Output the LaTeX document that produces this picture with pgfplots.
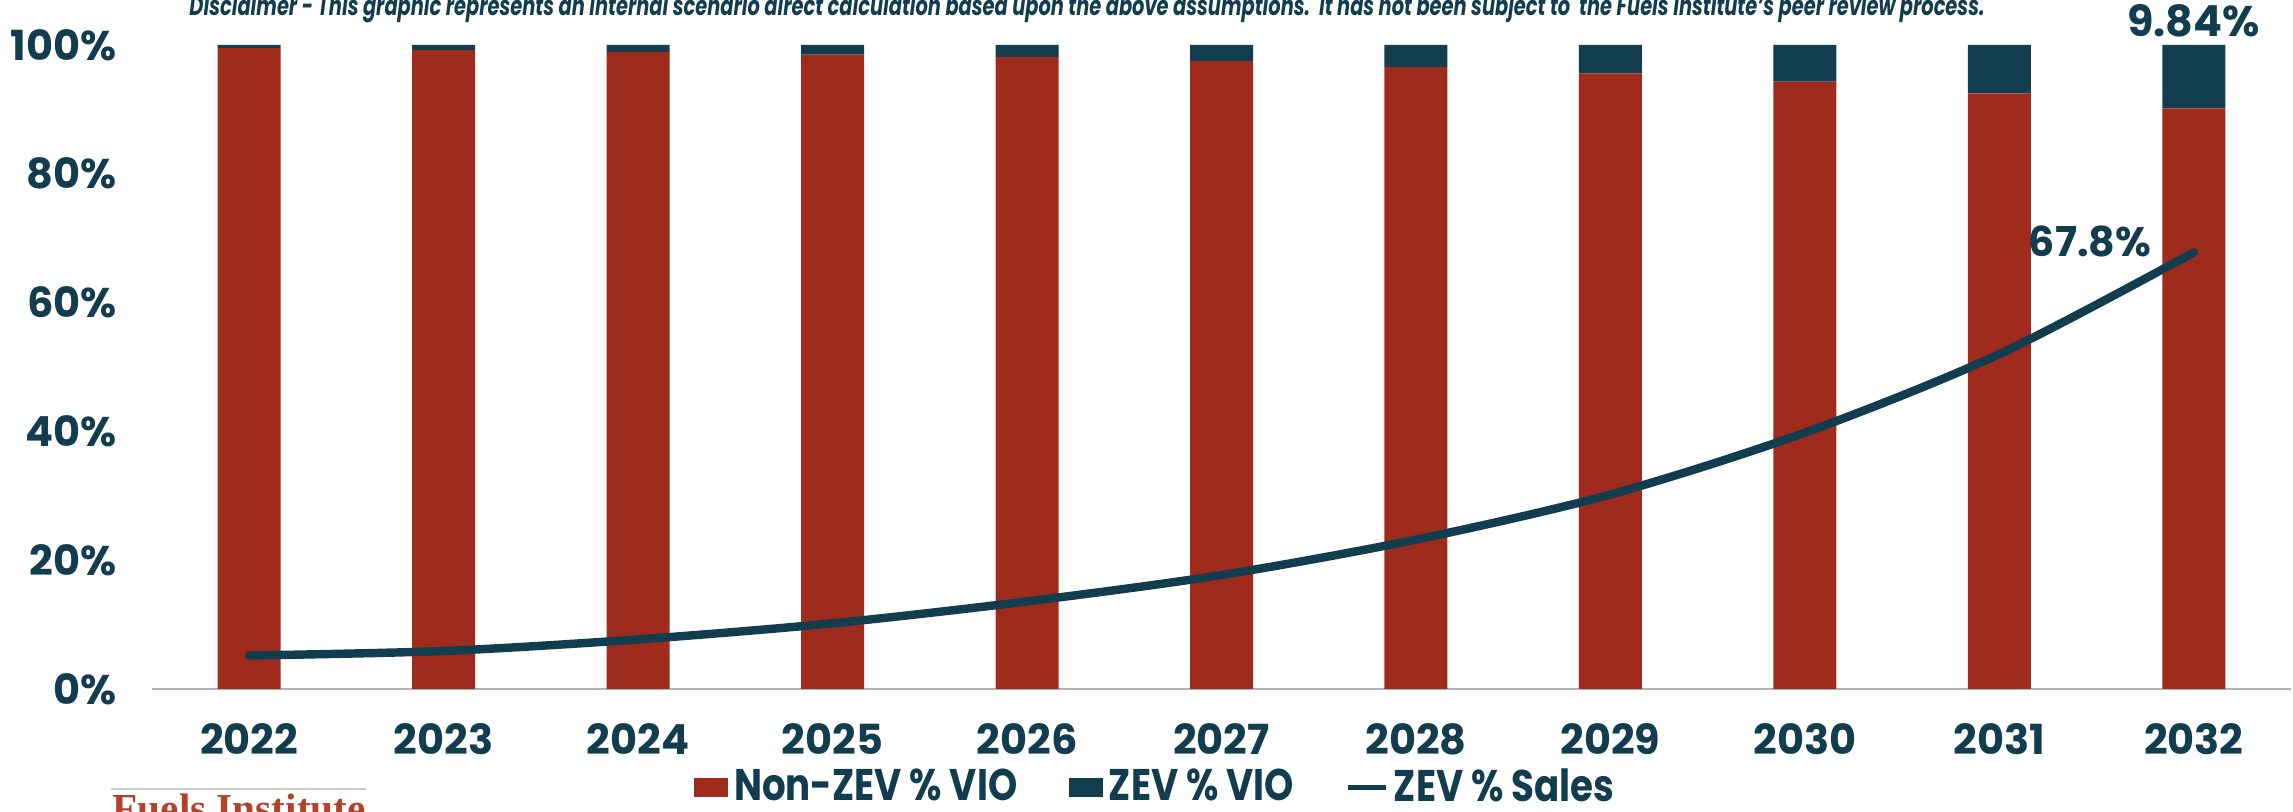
\documentclass[border=0pt]{standalone}
\usepackage{fontspec}
\setmainfont{Poppins}
\newfontfamily\cond[FakeStretch=0.84]{Poppins}
\newfontfamily\condd[FakeStretch=0.72]{Poppins}
\newfontfamily\logofont{Liberation Serif}
\usepackage{graphicx}
\usepackage{pgfplots}
\pgfplotsset{compat=1.18}
\definecolor{zevblue}{HTML}{123D4F}
\definecolor{nonred}{HTML}{9F2B1C}
\definecolor{logored}{HTML}{B4412A}
\begin{document}
\begin{tikzpicture}
\useasboundingbox (0,0) rectangle (22.93,8.12);
\begin{axis}[
  at={(1.52cm,1.23cm)}, anchor=south west,
  scale only axis, width=21.39cm, height=6.44cm,
  xmin=-0.5, xmax=10.5, ymin=0, ymax=100,
  ybar stacked, bar width=0.63cm,
  xtick={0,...,10},
  xticklabels={2022,2023,2024,2025,2026,2027,2028,2029,2030,2031,2032},
  ytick={0,20,40,60,80,100},
  yticklabels={0\%,20\%,40\%,60\%,80\%,100\%},
  axis x line*=bottom, axis y line*=left,
  x axis line style={draw=gray!60, line width=0.6pt, -},
  y axis line style={draw=none},
  major tick length=0pt,
  tick label style={font=\bfseries\fontsize{11.8}{11.8}\selectfont, color=zevblue},
  yticklabel style={xshift=-0.23cm},
  xticklabel style={yshift=-0.22cm},
  clip=false,
  legend columns=-1,
  legend style={at={(0.469,-0.153)}, anchor=center, draw=none, fill=none,
    font=\cond\bfseries\fontsize{12.6}{12.6}\selectfont, text=zevblue,
    nodes={inner sep=0.5pt},
    /tikz/every odd column/.append style={column sep=0.04cm},
    /tikz/every even column/.append style={column sep=0.5cm},
    inner sep=0pt},
]
\addplot[fill=nonred, draw=none,
  legend image code/.code={\fill[nonred] (0cm,-0.095cm) rectangle (0.34cm,0.095cm);}]
  coordinates {(0,99.5) (1,99.2) (2,98.9) (3,98.5) (4,98.1) (5,97.5) (6,96.6) (7,95.6) (8,94.3) (9,92.5) (10,90.16)};
\addlegendentry{Non-ZEV \% VIO}
\addplot[fill=zevblue, draw=none,
  legend image code/.code={\fill[zevblue] (0cm,-0.095cm) rectangle (0.34cm,0.095cm);}]
  coordinates {(0,0.5) (1,0.8) (2,1.1) (3,1.5) (4,1.9) (5,2.5) (6,3.4) (7,4.4) (8,5.7) (9,7.5) (10,9.84)};
\addlegendentry{ZEV \% VIO}
\addlegendimage{legend image code/.code={\draw[zevblue, line width=1.3pt] (0cm,0cm) -- (0.38cm,0cm);}}
\addlegendentry{ZEV \% Sales}
\node[anchor=south, text=zevblue, font=\bfseries\fontsize{12.2}{12.2}\selectfont, inner sep=0pt]
  at (axis cs:10,100) [yshift=0.07cm] {9.84\%};
\end{axis}
\begin{axis}[
  at={(1.52cm,1.23cm)}, anchor=south west,
  scale only axis, width=21.39cm, height=6.44cm,
  xmin=-0.5, xmax=10.5, ymin=0, ymax=100,
  hide axis, clip=false,
]
\addplot[smooth, color=zevblue, line width=2.4pt, line cap=round, mark=none]
  coordinates {(0,5.2) (1,5.9) (2,7.7) (3,10.2) (4,13.6) (5,17.7) (6,23.2) (7,30.2) (8,39.8) (9,52.0) (10,67.8)};
\node[anchor=east, text=zevblue, font=\bfseries\fontsize{11.7}{11.7}\selectfont, inner sep=0pt]
  at (axis cs:10,67.8) [xshift=-0.42cm, yshift=0.105cm] {67.8\%};
\end{axis}
\node[text=zevblue, inner sep=0pt] at (10.87,8.04)
  {\resizebox{17.95cm}{!}{\condd\bfseries\itshape\fontsize{6}{6}\selectfont Disclaimer - This graphic represents an internal scenario direct calculation based upon the above assumptions.\ \ It has not been subject to\ \ the Fuels Institute’s peer review process.}};
\draw[gray!40, line width=0.4pt] (1.11,0.23) -- (3.66,0.23);
\node[anchor=north west, inner sep=0pt, text=logored] at (1.12,0.19)
  {\resizebox{2.53cm}{!}{\logofont\bfseries Fuels Institute}};
\end{tikzpicture}
\end{document}
